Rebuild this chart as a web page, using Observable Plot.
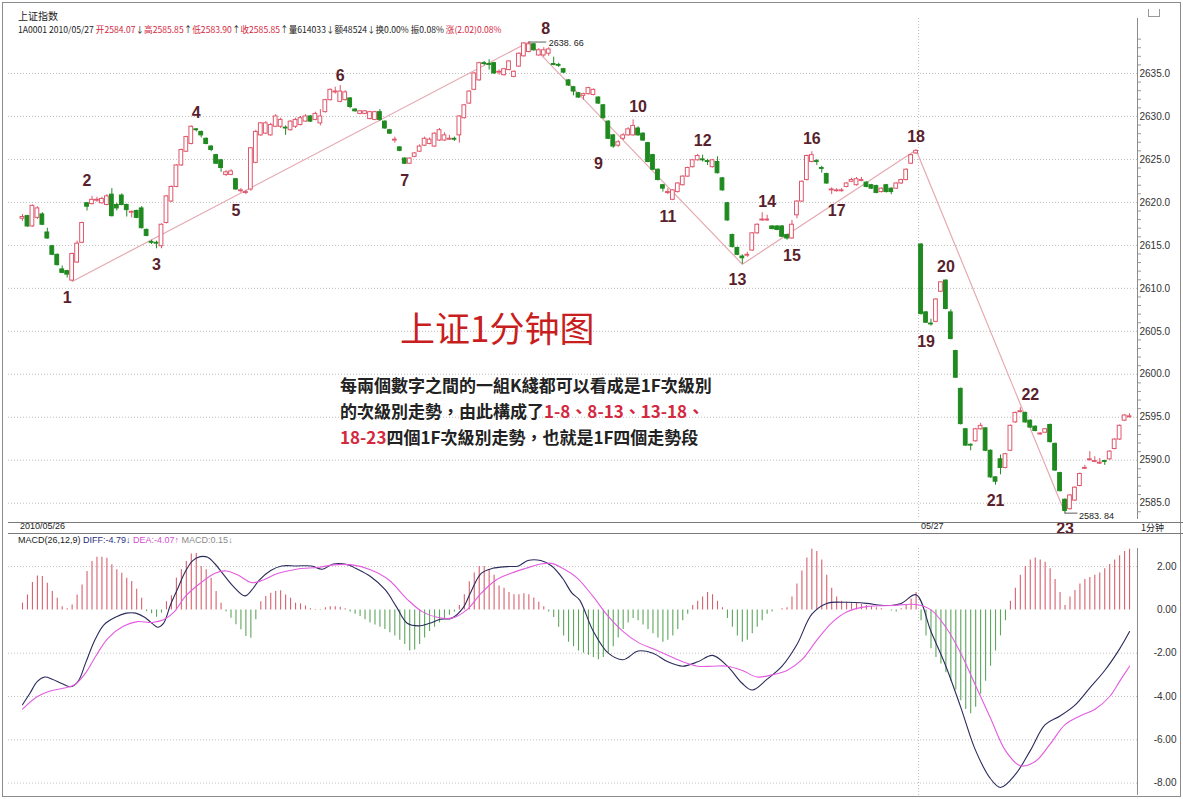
<!DOCTYPE html>
<html><head><meta charset="utf-8">
<script src="https://cdn.jsdelivr.net/npm/d3@7"></script>
<script src="https://cdn.jsdelivr.net/npm/@observablehq/plot@0.6"></script>
<style>
html,body{margin:0;padding:0;background:#fff;}
#wrap{position:relative;width:1183px;height:799px;overflow:hidden;font-family:"Liberation Sans","Noto Sans CJK SC",sans-serif;}
.abs{position:absolute;white-space:nowrap;}
#price,#macd{position:absolute;left:0;}
#price{top:0}
#macd{top:533px}
.r{color:#d4283f}
</style></head><body><div id="wrap">
<div id="price"></div><div id="macd"></div>
<div class="abs" style="left:2px;top:2px;width:1177px;height:793px;border:1px solid #8c8c8c;"></div>
<div class="abs" style="left:8px;top:522px;width:1175px;height:0;border-top:1px solid #7a7a7a;"></div>
<div class="abs" style="left:8px;top:533px;width:1175px;height:0;border-top:1px solid #7a7a7a;"></div>
<div class="abs" style="left:18px;top:8px;font-size:10px;color:#222;font-family:'Noto Sans CJK SC'">上证指数</div>
<div class="abs" style="left:18px;top:23px;font-size:8.6px;color:#222;font-family:'Noto Sans CJK SC'">1A0001 2010/05/27 <span class="r">开2584.07</span>↓<span class="r">高2585.85</span>↑<span class="r">低2583.90</span>↑<span class="r">收2585.85</span>↑量614033↓额48524↓换0.00% 振0.08% <span class="r">涨(2.02)0.08%</span></div>
<div class="abs" style="left:1148px;top:9px;width:10px;height:7px;border:1px solid #999;border-top:none;"></div>
<div class="abs" style="left:20px;top:521px;font-size:9px;color:#222;">2010/05/26</div>
<div class="abs" style="left:921px;top:521px;font-size:9px;color:#222;">05/27</div>
<div class="abs" style="left:1141px;top:521px;font-size:9px;color:#222;font-family:'Noto Sans CJK SC'">1分钟</div>
<div class="abs" style="left:18px;top:535px;font-size:9px;color:#222;">MACD(26,12,9) <span style="color:#2a2f80">DIFF:-4.79↓</span> <span style="color:#d04fd0">DEA:-4.07↑</span> <span style="color:#8a8a8a">MACD:0.15↓</span></div>
<div class="abs" style="left:400px;top:301px;font-size:35px;color:#c81e1e;font-family:'Noto Sans CJK SC'">上证1分钟图</div>
<div class="abs" style="left:340px;top:372px;font-size:17px;line-height:26px;color:#222;font-weight:bold;font-family:'Noto Sans CJK TC'">每兩個數字之間的一組K綫都可以看成是1F次級別<br>的次級別走勢，由此構成了<span class="r">1-8、8-13、13-18、</span><br><span class="r">18-23</span>四個1F次級別走勢，也就是1F四個走勢段</div>
</div>
<script>
const open = [2618.1,2618.4,2617.2,2618.2,2618.6,2616.5,2614.9,2613.9,2612.2,2612.0,
2610.9,2613.0,2615.3,2619.9,2619.8,2620.2,2619.9,2619.7,2620.9,2619.7,
2620.8,2619.7,2618.8,2619.0,2619.3,2616.8,2615.4,2615.3,2614.9,2617.6,
2620.1,2621.8,2624.3,2625.9,2626.8,2628.5,2628.2,2627.4,2626.5,2625.5,
2624.9,2623.2,2623.2,2622.7,2621.3,2621.1,2621.5,2624.6,2627.8,2628.0,
2627.8,2628.8,2628.8,2628.7,2628.4,2628.8,2629.0,2629.4,2630.0,2629.6,
2629.2,2630.5,2631.9,2632.8,2631.7,2631.9,2632.1,2630.8,2630.3,2630.3,
2629.7,2629.6,2630.5,2629.4,2628.4,2627.2,2626.4,2625.1,2624.5,2625.3,
2625.9,2626.6,2626.8,2626.5,2627.2,2627.2,2627.3,2627.4,2627.8,2629.8,
2631.5,2633.1,2634.2,2636.2,2636.1,2636.2,2635.1,2634.8,2635.4,2634.6,
2635.8,2637.0,2637.5,2638.4,2637.1,2637.1,2637.3,2636.1,2636.0,2635.5,
2634.2,2633.4,2632.7,2632.4,2632.6,2632.5,2632.2,2631.3,2629.4,2627.8,
2626.6,2627.4,2627.8,2627.8,2628.6,2628.0,2626.9,2625.5,2623.8,2622.0,
2621.1,2620.3,2621.2,2622.0,2623.0,2624.1,2624.9,2625.0,2624.8,2624.1,
2624.7,2622.8,2619.9,2616.2,2614.7,2613.7,2613.8,2614.4,2616.4,2617.9,
2617.9,2617.2,2617.2,2617.2,2616.2,2615.8,2618.5,2620.1,2622.6,2624.7,
2624.8,2624.0,2623.3,2621.4,2621.3,2621.3,2621.8,2622.4,2622.0,2622.5,
2622.3,2622.0,2621.9,2621.2,2622.0,2621.6,2621.6,2622.2,2622.6,2624.5,
2625.7,2615.1,2607.2,2605.9,2606.1,2609.6,2610.9,2607.2,2602.7,2598.3,
2593.6,2591.8,2592.2,2593.6,2593.7,2591.1,2588.0,2590.1,2589.1,2591.1,
2594.4,2595.6,2595.5,2594.6,2593.9,2593.0,2593.2,2594.1,2591.9,2588.5,
2585.4,2584.3,2585.3,2587.0,2589.0,2590.0,2589.8,2589.6,2589.9,2590.1,
2591.3,2592.4,2594.6,2595.0];
const close = [2618.3,2617.2,2619.6,2619.3,2617.4,2615.8,2613.9,2612.7,2611.8,2611.6,
2614.0,2615.2,2617.6,2619.5,2620.3,2620.3,2620.4,2620.7,2618.4,2619.3,
2619.7,2619.1,2618.9,2618.2,2617.0,2616.1,2615.3,2615.2,2617.4,2620.7,
2621.8,2624.3,2626.1,2627.6,2628.8,2628.4,2627.8,2626.8,2626.1,2624.5,
2624.0,2623.5,2623.6,2621.5,2621.4,2621.2,2626.3,2628.2,2629.2,2629.2,
2629.0,2630.0,2629.6,2628.6,2629.4,2629.6,2629.8,2630.0,2629.4,2630.3,
2630.0,2631.9,2633.1,2632.9,2632.9,2632.8,2631.1,2630.6,2630.6,2630.6,
2630.5,2630.5,2629.6,2628.6,2628.0,2627.3,2626.0,2624.5,2625.1,2625.7,
2626.5,2627.4,2627.3,2628.0,2628.4,2627.8,2627.4,2627.3,2630.0,2631.3,
2632.9,2635.0,2636.2,2636.1,2636.0,2635.0,2635.2,2635.5,2636.4,2635.2,
2637.3,2638.5,2638.4,2637.7,2637.7,2637.7,2637.8,2636.0,2635.9,2635.1,
2633.6,2632.9,2632.2,2632.6,2633.3,2633.1,2631.5,2629.8,2627.4,2626.5,
2627.0,2627.8,2628.5,2628.9,2627.8,2627.2,2624.7,2623.8,2622.6,2621.6,
2621.2,2621.4,2622.2,2623.0,2624.0,2624.9,2625.4,2624.9,2624.7,2624.9,
2623.4,2621.4,2617.9,2614.8,2613.9,2613.5,2613.9,2616.4,2617.4,2618.0,
2618.0,2616.9,2616.8,2616.0,2615.8,2617.4,2620.1,2622.4,2625.4,2625.5,
2624.7,2623.9,2622.2,2621.5,2621.4,2621.4,2622.2,2622.6,2622.7,2622.6,
2621.8,2621.6,2621.1,2621.6,2621.2,2621.2,2622.2,2622.6,2623.8,2625.5,
2626.0,2607.0,2606.0,2605.8,2608.7,2610.7,2607.6,2604.1,2599.6,2594.2,
2591.7,2591.7,2593.6,2594.0,2591.1,2588.0,2587.5,2589.1,2590.7,2594.0,
2595.5,2595.7,2594.4,2593.8,2593.4,2593.1,2593.6,2592.1,2588.8,2586.4,
2584.1,2585.9,2586.8,2588.4,2589.1,2590.1,2589.9,2589.7,2589.8,2591.0,
2592.4,2594.0,2595.2,2595.1];
const high = [2618.6,2618.5,2619.7,2619.5,2618.8,2617.0,2615.0,2614.0,2612.6,2612.1,
2614.1,2615.5,2617.7,2620.0,2620.7,2620.6,2620.6,2620.9,2621.6,2619.9,
2621.0,2619.8,2619.0,2619.1,2619.5,2616.9,2615.6,2615.5,2617.5,2620.8,
2621.9,2624.4,2626.2,2627.7,2628.9,2628.6,2628.3,2627.5,2626.6,2625.6,
2625.0,2623.7,2623.8,2622.8,2621.6,2621.4,2626.4,2628.4,2629.3,2629.4,
2629.2,2630.2,2629.8,2628.9,2629.5,2629.8,2630.0,2630.2,2630.1,2630.5,
2630.8,2632.0,2633.2,2633.4,2633.6,2633.0,2632.2,2630.9,2630.7,2630.7,
2630.6,2630.6,2630.8,2629.5,2628.5,2627.6,2626.5,2625.2,2625.2,2625.8,
2626.7,2627.6,2627.5,2628.1,2628.6,2628.1,2627.8,2627.6,2630.1,2631.4,
2633.0,2635.1,2636.3,2636.4,2636.6,2636.3,2635.4,2635.6,2636.5,2635.3,
2637.4,2638.6,2638.66,2638.5,2637.9,2638.0,2638.0,2636.9,2636.2,2635.6,
2634.3,2633.5,2632.8,2632.7,2633.4,2633.2,2632.3,2631.4,2629.5,2627.9,
2627.2,2628.0,2628.7,2629.6,2628.8,2628.1,2627.0,2625.6,2623.9,2622.1,
2621.6,2621.5,2622.3,2623.1,2624.1,2625.0,2625.6,2625.5,2625.0,2625.0,
2625.3,2622.9,2620.0,2616.3,2614.8,2613.9,2614.2,2616.5,2617.5,2618.8,
2618.5,2617.3,2617.3,2617.3,2616.3,2617.9,2620.2,2622.5,2625.5,2625.9,
2625.0,2624.2,2623.4,2621.7,2621.6,2621.6,2622.3,2622.8,2622.9,2622.9,
2622.4,2622.1,2622.0,2621.7,2622.1,2621.7,2622.3,2622.7,2623.9,2625.6,
2626.1,2615.2,2607.3,2606.4,2608.8,2610.8,2611.0,2607.5,2602.8,2598.4,
2593.7,2591.9,2593.7,2594.3,2593.8,2591.2,2588.1,2590.6,2590.8,2594.1,
2595.6,2596.1,2595.6,2594.7,2594.0,2593.2,2593.7,2594.2,2592.0,2588.6,
2585.5,2586.0,2586.9,2588.5,2589.4,2591.0,2590.4,2590.2,2590.0,2591.1,
2592.5,2594.1,2595.3,2595.4];
const low = [2617.8,2617.1,2617.1,2618.0,2617.3,2615.7,2613.8,2612.6,2611.7,2611.2,
2610.8,2612.9,2615.2,2619.0,2619.7,2620.0,2619.8,2619.6,2618.3,2619.0,
2619.6,2618.3,2618.2,2618.1,2616.9,2616.0,2615.1,2614.6,2614.6,2617.5,
2620.0,2621.7,2624.2,2625.8,2626.7,2628.2,2627.5,2626.7,2625.9,2624.4,
2623.5,2623.0,2623.1,2621.4,2621.1,2620.9,2621.3,2624.5,2627.7,2627.9,
2627.7,2628.7,2628.6,2627.8,2628.3,2628.6,2628.9,2629.3,2629.3,2629.5,
2628.9,2630.4,2631.8,2632.6,2631.6,2631.8,2630.9,2630.5,2630.2,2630.2,
2629.6,2629.5,2629.4,2628.5,2627.9,2626.9,2625.9,2624.4,2624.4,2625.2,
2625.8,2626.5,2626.7,2626.4,2627.1,2627.1,2627.2,2627.1,2626.9,2629.7,
2631.4,2633.0,2634.1,2635.9,2635.4,2634.9,2634.8,2634.7,2635.3,2634.5,
2635.7,2636.9,2637.4,2637.6,2637.0,2636.9,2637.0,2635.9,2635.7,2635.0,
2633.5,2632.4,2632.1,2631.9,2632.5,2632.4,2631.4,2629.7,2627.3,2626.3,
2626.4,2627.2,2627.7,2627.7,2627.7,2627.1,2624.6,2623.7,2622.5,2621.2,
2620.9,2620.2,2621.1,2621.9,2622.9,2624.0,2624.8,2624.7,2624.3,2624.0,
2623.3,2621.3,2617.8,2614.7,2613.8,2612.8,2613.6,2614.3,2616.3,2617.8,
2617.8,2616.8,2616.7,2615.9,2615.6,2615.7,2618.1,2620.0,2622.5,2624.6,
2624.3,2623.4,2622.1,2620.9,2621.2,2621.2,2621.7,2622.3,2621.9,2622.4,
2621.7,2621.5,2621.0,2621.1,2621.1,2620.9,2621.5,2622.1,2622.5,2624.4,
2625.6,2606.9,2605.9,2605.6,2606.0,2609.5,2607.5,2604.0,2599.5,2594.1,
2591.6,2591.1,2592.1,2593.5,2591.0,2587.9,2587.1,2588.3,2589.0,2591.0,
2594.3,2595.5,2594.3,2593.7,2593.3,2592.9,2593.1,2592.0,2588.7,2586.3,
2583.84,2584.2,2585.2,2586.9,2588.9,2589.9,2589.7,2589.5,2589.4,2590.0,
2591.2,2592.3,2594.5,2594.9];
const macdHist = [0.31,0.69,1.26,1.57,1.54,1.23,0.85,0.54,0.15,0.05,
0.23,0.69,1.15,1.77,2.23,2.43,2.43,2.38,2.08,1.85,
1.69,1.46,1.31,0.95,0.54,-0.08,-0.18,-0.34,-0.15,
0.38,0.65,1.46,1.85,2.23,2.58,2.6,2.0,1.85,1.46,0.85,0.31,
-0.08,-0.38,-0.69,-0.92,-1.23,-1.31,-0.46,
0.38,0.62,0.77,0.85,0.88,0.69,0.54,0.31,0.28,0.18,
0.05,0.02,-0.03,0.1,0.15,0.14,0.12,0.05,
-0.1,-0.2,-0.3,-0.45,-0.6,-0.7,-0.8,-0.9,-1.05,-1.2,-1.4,-1.6,-1.9,-1.85,-1.6,-1.3,-1.0,-0.8,-0.6,-0.4,-0.25,-0.1,
0.2,0.7,1.3,1.7,2.0,2.0,1.85,1.6,1.1,1.0,0.8,0.7,0.7,0.75,0.7,0.55,0.35,0.15,
-0.1,-0.35,-0.8,-1.2,-1.5,-1.7,-1.9,
-2.0,-2.1,-2.2,-2.3,-2.2,-2.0,-1.7,-1.3,-0.9,
-0.6,-0.4,-0.5,-0.7,
-0.9,-1.1,-1.3,-1.5,-1.4,-1.2,-0.9,-0.5,-0.2,
0.2,0.4,0.6,0.8,0.7,0.4,0.1,
-0.4,-0.8,-1.2,-1.5,-1.4,-1.1,-0.8,-0.5,-0.2,
-0.1,0.0,0.05,0.1,
0.6,1.2,1.8,2.4,2.8,2.7,2.3,1.6,1.0,
0.6,0.4,0.35,0.3,0.3,0.25,0.2,0.15,0.1,0.05,0.0,-0.05,-0.1,
0.05,0.2,0.5,0.8,
-0.5,-1.2,-1.8,-2.2,-2.5,-2.9,-3.3,-3.7,-4.2,-4.6,-4.8,-4.5,-3.9,-3.3,-2.6,-1.9,-1.2,-0.5,
0.4,1.0,1.6,2.0,2.3,2.4,2.3,2.2,1.9,1.4,0.8,
0.2,
0.6,0.9,1.2,1.4,1.5,1.6,1.7,1.9,2.1,2.3,2.5,2.7,2.8];
const diffBar = [0,1.5,3,4.5,6,7.9,9.7,11.2,12.7,14.6,16.4,18.7,20.9,22.8,24.6,26.1,27.2,28.4,29.8,31.3,32.8,34.3,35.8,37.3,38.8,40.3,42.5,44.8,46.2,47.7,50,52.2,55.2,58.2,60.4,62.6,65.6,67.1,70.1,73.1,75.3,77.5,79.8,82,84.2,86.5,88.7,90.2,92.4,94.7,97.6,99.9,101.8,104.4,106.6,108.8,110.7,112.2,115,118,121,124,127,130,133,136,139,142,145,147,150,153,156,159,162,166,170,174,177,180,183,186,189,192,195,197,200,203,206,209,212,215,218,221,223];
const diffVal = [-4.38,-3.85,-3.3,-3.1,-3.2,-3.4,-3.55,-3.3,-2.46,-1.38,-0.69,-0.34,-0.15,-0.15,-0.34,-0.62,-0.8,-0.62,0.23,1.0,1.77,2.28,2.46,2.43,2.12,1.69,1.08,0.65,0.92,1.38,1.82,2.03,2.03,2.03,1.88,2.12,2.08,1.92,1.54,0.92,0.15,-0.62,-0.74,-0.62,-0.43,-0.38,0.08,0.77,1.69,1.92,2.0,2.03,2.28,2.28,2.03,1.46,0.77,0.46,-1.0,-2.0,-2.3,-1.9,-2.0,-2.4,-2.6,-2.4,-2.1,-2.6,-3.4,-3.7,-3.2,-2.6,-1.6,-0.2,0.3,0.35,0.3,0.2,0.3,0.7,-1.0,-2.6,-4.5,-6.5,-7.8,-8.2,-7.6,-6.5,-5.3,-4.9,-4.4,-3.6,-2.8,-1.8,-1.0];
const deaBar = [0,3,5.3,8.2,10.5,12.7,14.9,17.2,20.2,23.1,26.1,28.4,30.6,32.8,35.8,38.8,41,43.3,46.2,48.5,51.5,55.2,59.7,62.6,66.4,70.1,73.8,77.5,80.5,83.5,86.5,89.5,92.4,95.4,98.4,101.4,104.4,106.6,108.8,111.8,115,118,121,124,127,130,133,136,139,142,145,148,151,154,157,160,163,166,170,175,180,183,186,189,192,195,198,201,204,207,210,213,216,219,221,223];
const deaVal = [-4.58,-4.0,-3.77,-3.62,-3.46,-2.92,-2.08,-1.31,-0.77,-0.54,-0.58,-0.46,-0.08,0.62,1.23,1.69,1.8,1.62,1.26,1.38,1.69,1.88,1.97,2.08,2.08,1.85,1.38,0.49,-0.08,-0.34,-0.38,0,0.77,1.38,1.69,1.92,2.12,2.15,1.92,1.46,0.6,-0.3,-1.0,-1.5,-1.8,-2.1,-2.4,-2.6,-2.6,-2.6,-2.8,-3.1,-3.0,-2.8,-2.3,-1.4,-0.6,-0.1,0.15,0.2,0.25,0.0,-0.8,-2.0,-3.5,-5.0,-6.5,-7.2,-7.0,-6.2,-5.3,-4.9,-4.6,-4.0,-3.3,-2.6];
const turnLabel = ["1","2","3","4","5","6","7","8","9","10","11","12","13","14","15","16","17","18","19","20","21","22","23"];
const labelBar = [9,13,27,35,43,64,77,106,116,124,130,137,144,150,155,159,164,180,182,186,196,203,210];
const turnPrice = [2610.8,2621.0,2614.6,2628.9,2620.9,2633.2,2624.4,2638.66,2626.3,2629.6,2620.2,2625.6,2612.8,2618.5,2615.6,2625.9,2620.9,2626.1,2605.6,2611.0,2587.1,2596.1,2583.84];
const trendBar = [10,102,145,180,210];
const trendPrice = [2610.8,2638.66,2612.8,2626.1,2583.84];
const priceTicks = [2585,2590,2595,2600,2605,2610,2615,2620,2625,2630,2635];
const macdTicks = [2,0,-2,-4,-6,-8];
const dayBreak = 180.5;

const n = Math.min(open.length, close.length, high.length, low.length);
const bars = d3.range(n).map(i => ({i, o: open[i], c: close[i], h: high[i], l: low[i], m: macdHist[i] ?? 0}));
const RED = "#e0566b", GREEN = "#1f8a1f";
const col = d => d.c >= d.o ? RED : GREEN;
const xDom = [-2.82, 224.6];
const font = "Liberation Sans, Arial, sans-serif";
const trend = trendBar.map((b, k) => ({i: b, p: trendPrice[k]}));
const turns = turnLabel.map((t, k) => ({t, i: labelBar[k], p: turnPrice[k], hi: k % 2 === 1 && t !== "8"}));
const minor = d3.range(2584, 2641, 1).filter(v => v % 5 !== 0);

const price = Plot.plot({
  width: 1183, height: 523, marginLeft: 8, marginRight: 46, marginTop: 18, marginBottom: 4,
  x: {domain: xDom, axis: null},
  y: {domain: [2583.1, 2641.4], axis: null},
  style: {background: "transparent", fontFamily: font, overflow: "visible"},
  marks: [
    Plot.ruleY(priceTicks, {stroke: "#bdbdbd", strokeDasharray: "1,2"}),
    Plot.ruleX([dayBreak], {stroke: "#bdbdbd", strokeDasharray: "1,2"}),
    Plot.line(trend, {x: "i", y: "p", stroke: "#e5aab2", strokeWidth: 1.2}),
    Plot.ruleX(bars, {x: "i", y1: "l", y2: "h", stroke: col, strokeWidth: 1}),
    Plot.rect(bars, {x1: d => d.i - 0.38, x2: d => d.i + 0.38, y1: "o", y2: "c", fill: d => d.c >= d.o ? "#fff" : GREEN, stroke: col, strokeWidth: 1}),
    Plot.text(turns.filter(d => d.hi), {x: "i", y: "p", text: "t", dy: -13, fontSize: 16, fontWeight: "bold", fill: "#5a1f2c"}),
    Plot.text(turns.filter(d => !d.hi && d.t !== "8"), {x: "i", y: "p", text: "t", dy: 16, fontSize: 16, fontWeight: "bold", fill: "#5a1f2c"}),
    Plot.text(turns.filter(d => d.t === "8"), {x: "i", y: "p", text: "t", dy: -13, dx: -3, fontSize: 16, fontWeight: "bold", fill: "#5a1f2c"}),
    Plot.ruleY([{p: trendPrice[1]}], {y: "p", x1: trendBar[1], x2: trendBar[1] + 3.6, stroke: "#333", strokeWidth: 0.8}),
    Plot.text([{p: trendPrice[1]}], {x: trendBar[1] + 3.6, y: "p", text: d => d.p.toFixed(2).replace(".", ". "), textAnchor: "start", dx: 2, dy: 1, fontSize: 9, fill: "#222"}),
    Plot.ruleY([{p: trendPrice[4]}], {y: "p", x1: trendBar[4], x2: trendBar[4] + 2.6, stroke: "#333", strokeWidth: 0.8}),
    Plot.text([{p: trendPrice[4]}], {x: trendBar[4] + 2.6, y: "p", text: d => d.p.toFixed(2).replace(".", ". "), textAnchor: "start", dx: 1, dy: 3, fontSize: 9, fill: "#222"}),
    Plot.axisY(minor, {anchor: "right", tickSize: 3, tickFormat: () => "", stroke: "#999"}),
    Plot.axisY(priceTicks, {anchor: "right", tickSize: 0, tickPadding: 2, tickFormat: d => d.toFixed(1), fontSize: 10, fill: "#333"}),
    Plot.ruleX([xDom[1]], {stroke: "#8c8c8c"})
  ]
});
document.getElementById("price").append(price);

const diffPts = diffBar.map((b, k) => ({i: b, v: diffVal[k]}));
const deaPts = deaBar.map((b, k) => ({i: b, v: deaVal[k]}));
const macd = Plot.plot({
  width: 1183, height: 266, marginLeft: 8, marginRight: 46, marginTop: 15, marginBottom: 4,
  x: {domain: xDom, axis: null},
  y: {domain: [-8.573, 2.836], axis: null},
  style: {background: "transparent", fontFamily: font, overflow: "visible"},
  marks: [
    Plot.ruleY(macdTicks.filter(d => d !== 0), {stroke: "#c4c4c4", strokeDasharray: "1,2"}),
    Plot.ruleX([dayBreak], {stroke: "#bdbdbd", strokeDasharray: "1,2"}),
    Plot.ruleX(bars, {x: "i", y1: 0, y2: "m", stroke: d => d.m >= 0 ? "#d8606f" : "#5da65d", strokeWidth: 1.1}),
    Plot.line(diffPts, {x: "i", y: "v", stroke: "#2a2b5c", strokeWidth: 1.1, curve: "catmull-rom"}),
    Plot.line(deaPts, {x: "i", y: "v", stroke: "#e35ce0", strokeWidth: 1.1, curve: "catmull-rom"}),
    Plot.axisY(macdTicks, {anchor: "right", tickSize: 0, tickFormat: d => d.toFixed(2), textAnchor: "end", dx: 30, fontSize: 10, fill: "#333"}),
    Plot.ruleX([xDom[1]], {stroke: "#8c8c8c"})
  ]
});
document.getElementById("macd").append(macd);
</script></body></html>
